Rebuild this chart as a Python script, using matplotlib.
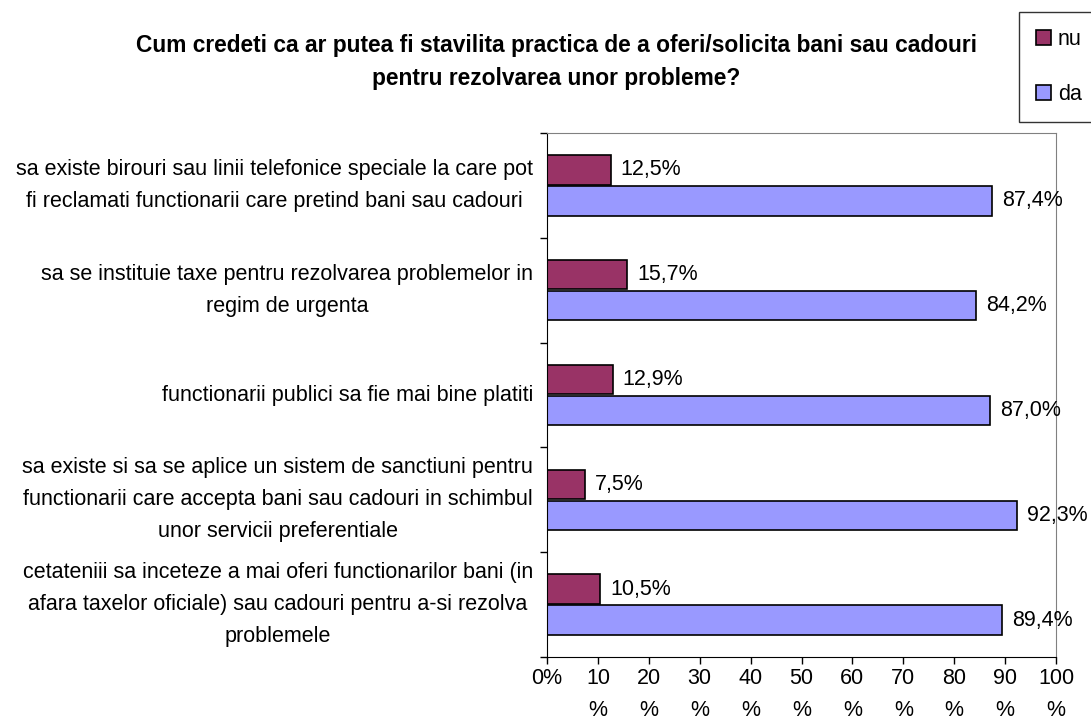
import matplotlib
matplotlib.use("Agg")
import matplotlib.pyplot as plt
import numpy as np

categories = [
    "sa existe birouri sau linii telefonice speciale la care pot\nfi reclamati functionarii care pretind bani sau cadouri",
    "sa se instituie taxe pentru rezolvarea problemelor in\nregim de urgenta",
    "functionarii publici sa fie mai bine platiti",
    "sa existe si sa se aplice un sistem de sanctiuni pentru\nfunctionarii care accepta bani sau cadouri in schimbul\nunor servicii preferentiale",
    "cetateniii sa inceteze a mai oferi functionarilor bani (in\nafara taxelor oficiale) sau cadouri pentru a-si rezolva\nproblemele",
]
nu = [12.5, 15.7, 12.9, 7.5, 10.5]
da = [87.4, 84.2, 87.0, 92.3, 89.4]
xticks = [0, 10, 20, 30, 40, 50, 60, 70, 80, 90, 100]
xticklabels = ["0%"] + [f"{v}\n%" for v in xticks[1:]]
title = "Cum credeti ca ar putea fi stavilita practica de a oferi/solicita bani sau cadouri\npentru rezolvarea unor probleme?"

plt.rcParams['font.family'] = ['Liberation Sans', 'DejaVu Sans']

fig = plt.figure(figsize=(10.91, 7.19), dpi=100)
ax = fig.add_axes([547/1091, 1-657/719, (1056-547)/1091, (657-133)/719])

y = np.arange(len(categories))
h = 0.28
off = 0.148
b_nu = ax.barh(y - off, nu, height=h, color="#993366", edgecolor="black", linewidth=1.2, label="nu")
b_da = ax.barh(y + off, da, height=h, color="#9999FF", edgecolor="black", linewidth=1.2, label="da")

for rect, v in zip(b_nu, nu):
    ax.text(v + 2.0, rect.get_y() + rect.get_height()/2, f"{v:.1f}%".replace(".", ","),
            va="center", ha="left", fontsize=15.5)
for rect, v in zip(b_da, da):
    ax.text(v + 2.0, rect.get_y() + rect.get_height()/2, f"{v:.1f}%".replace(".", ","),
            va="center", ha="left", fontsize=15.5)

ax.set_xlim(0, 100)
ax.set_ylim(len(categories) - 0.5, -0.5)

ax.set_xticks(xticks)
ax.set_xticklabels(xticklabels, fontsize=15.5, linespacing=1.7, va="top")
ax.tick_params(axis="x", direction="out", length=5, width=1, pad=3)

ax.set_yticks(np.arange(len(categories) + 1) - 0.5)
ax.set_yticklabels([])
ax.tick_params(axis="y", which="major", direction="out", length=5, width=1)
ax.set_yticks(y, minor=True)
ax.set_yticklabels(categories, minor=True, fontsize=15.5, multialignment="center",
                   linespacing=1.7, va="center")
ax.tick_params(axis="y", which="minor", length=0, pad=10)

for s in ["top", "right"]:
    ax.spines[s].set_color("#808080")
for s in ["left", "bottom"]:
    ax.spines[s].set_color("black")

fig.text(556/1091, 1-62/719, title, ha="center", va="center", fontsize=16.4,
         fontweight="bold", linespacing=1.55)

leg = fig.legend(handles=[b_nu, b_da], labels=["nu", "da"], loc="upper left",
                 bbox_to_anchor=(1019/1091, 1-12/719), fontsize=15.5, frameon=True,
                 fancybox=False, edgecolor="black", handlelength=0.7, handleheight=0.7,
                 handletextpad=0.3, labelspacing=1.55, borderpad=0.8, borderaxespad=0)
leg.get_frame().set_linewidth(1)

fig.savefig("out.png", dpi=100)
